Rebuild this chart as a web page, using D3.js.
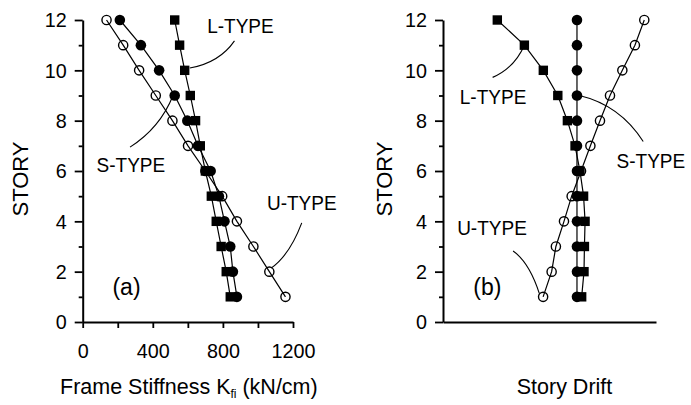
<!DOCTYPE html>
<html><head><meta charset="utf-8">
<script src="https://cdn.jsdelivr.net/npm/d3@7"></script>
<style>body{margin:0;background:#fff}svg{display:block}</style>
</head><body><svg id="c" width="691" height="405"></svg>
<script>
const stories = [1,2,3,4,5,6,7,8,9,10,11,12];
// panel (a): frame stiffness (kN/cm), story 1..12
const stiffL = [842, 819, 790, 762, 734, 700, 671, 644, 614, 582, 553, 525];
const stiffS = [880, 857, 842, 809, 777, 730, 658, 597, 525, 436, 332, 212];
const stiffU = [1157, 1065, 974, 880, 796, 700, 601, 512, 417, 322, 231, 136];
// panel (b): story drift (relative units), story 1..12
const driftL = [65.1, 66.2, 66.4, 66.7, 66.0, 64.3, 62.0, 58.4, 53.9, 47.1, 38.2, 25.5];
const driftS = [62.9, 62.9, 62.9, 62.9, 62.9, 62.9, 62.9, 62.9, 62.9, 62.9, 62.9, 62.9];
const driftU = [47.0, 51.0, 53.0, 56.8, 60.4, 64.8, 69.2, 73.7, 78.4, 84.2, 90.1, 94.5];
const yMajor = [0,2,4,6,8,10,12];
const yMinor = [1,3,5,7,9,11];
const xMajorA = [0,400,800,1200];
const xMinorA = [200,600,1000];

const FONT = "'Liberation Sans', Arial, sans-serif";
const svg = d3.select("#c");
const y = d3.scaleLinear().domain([0,12]).range([322,20]);
const xa = d3.scaleLinear().domain([0,1200]).range([82.7,293]);
const xb = d3.scaleLinear().domain([0,100]).range([443,656]);

function squeeze(sel, k){
  sel.each(function(){
    const L = this.getComputedTextLength();
    if (L > 0) d3.select(this).attr("textLength", L*k).attr("lengthAdjust","spacingAndGlyphs");
  });
}
function styleAxis(g, fs){
  g.attr("font-family", FONT).attr("font-size", fs);
  g.selectAll("path.domain").attr("stroke-width", 2).attr("stroke","#000");
  g.selectAll(".tick line").attr("stroke-width", 1.8).attr("stroke","#000");
  g.selectAll(".tick text").attr("fill","#000");
  squeeze(g.selectAll(".tick text"), 0.94);
}

function yAxes(x0){
  const g1 = svg.append("g").attr("transform",`translate(${x0},0)`)
    .call(d3.axisLeft(y).tickValues(yMajor).tickSize(8).tickPadding(8).tickSizeOuter(0));
  styleAxis(g1, 21);
  const g2 = svg.append("g").attr("transform",`translate(${x0},0)`)
    .call(d3.axisLeft(y).tickValues(yMinor).tickSize(4).tickFormat("").tickSizeOuter(0));
  styleAxis(g2, 21);
  g2.select("path.domain").remove();
}
yAxes(xa(0));
yAxes(xb(0));

const gx1 = svg.append("g").attr("transform",`translate(0,${y(0)})`)
  .call(d3.axisBottom(xa).tickValues(xMajorA).tickFormat(d3.format("d")).tickSize(6).tickPadding(15).tickSizeOuter(0));
styleAxis(gx1, 21);
const gx2 = svg.append("g").attr("transform",`translate(0,${y(0)})`)
  .call(d3.axisBottom(xa).tickValues(xMinorA).tickSize(6).tickFormat("").tickSizeOuter(0));
styleAxis(gx2, 21);
gx2.select("path.domain").remove();
const gx3 = svg.append("g").attr("transform",`translate(0,${y(0)})`)
  .call(d3.axisBottom(xb).tickValues([]).tickSizeOuter(0));
styleAxis(gx3, 21);

function series(x, vals, type){
  const pts = stories.map((s,i)=>[x(vals[i]), y(s)]);
  svg.append("path").attr("d", d3.line()(pts)).attr("fill","none").attr("stroke","#000").attr("stroke-width",1.2);
  const g = svg.append("g");
  pts.forEach(p=>{
    if(type==="U") g.append("circle").attr("cx",p[0]).attr("cy",p[1]).attr("r",4.6).attr("fill","none").attr("stroke","#000").attr("stroke-width",1.4);
    else if(type==="S") g.append("circle").attr("cx",p[0]).attr("cy",p[1]).attr("r",5.3).attr("fill","#000");
    else g.append("rect").attr("x",p[0]-4.7).attr("y",p[1]-4.7).attr("width",9.4).attr("height",9.4).attr("fill","#000");
  });
}
series(xa, stiffU, "U"); series(xa, stiffS, "S"); series(xa, stiffL, "L");
series(xb, driftU, "U"); series(xb, driftS, "S"); series(xb, driftL, "L");

function txt(x, yy, s, fs, anchor){
  return svg.append("text").attr("x",x).attr("y",yy).attr("font-family",FONT).attr("font-size",fs)
    .attr("text-anchor",anchor||"middle").attr("fill","#000").text(s);
}
// callouts: [label, label value, label story, start(v,s), ctrl(v,s), end(v,s)]
const callA = [
  ["L-TYPE", 900, 11.5, [866,11.17],[780,10.3],[611,10.09]],
  ["S-TYPE", 275, 5.95, [270,6.95],[440,7.7],[515,8.99]],
  ["U-TYPE", 1250, 4.45, [1250,3.94],[1180,2.65],[1075,2.14]]
];
const callB = [
  ["L-TYPE", 23.5, 8.66, [23.3,9.72],[33.6,10.09],[38.4,11.04]],
  ["S-TYPE", 97.6, 6.12, [94.0,7.17],[83.1,8.62],[64.0,9.0]],
  ["U-TYPE", 23.0, 3.46, [32.9,2.82],[40.4,2.38],[45.2,1.14]]
];
function callouts(x, list){
  list.forEach(c=>{
    squeeze(txt(x(c[1]), y(c[2]), c[0], 20), 0.95);
    const p = d3.path();
    p.moveTo(x(c[3][0]), y(c[3][1]));
    p.quadraticCurveTo(x(c[4][0]), y(c[4][1]), x(c[5][0]), y(c[5][1]));
    svg.append("path").attr("d", p.toString()).attr("fill","none").attr("stroke","#000").attr("stroke-width",1.1);
  });
}
callouts(xa, callA); callouts(xb, callB);
txt(xa(250), y(1.08), "(a)", 23);
txt(xb(20.8), y(1.08), "(b)", 23);

// axis titles
const t1 = txt((xa(0)+xa(1200))/2 + 1, 394, "", 21.5);
t1.append("tspan").text("Frame Stiffness K");
t1.append("tspan").attr("font-size",12).attr("dy",4).text("fi");
t1.append("tspan").attr("dy",-4).text("\u00a0(kN/cm)");
txt((xb(0)+xb(100))/2 + 15, 394, "Story Drift", 21.5);
svg.append("text").attr("transform",`translate(28,${y(6)+8}) rotate(-90)`).attr("font-family",FONT).attr("font-size",22).attr("text-anchor","middle").text("STORY");
svg.append("text").attr("transform",`translate(392,${y(6)+8}) rotate(-90)`).attr("font-family",FONT).attr("font-size",22).attr("text-anchor","middle").text("STORY");
</script></body></html>
